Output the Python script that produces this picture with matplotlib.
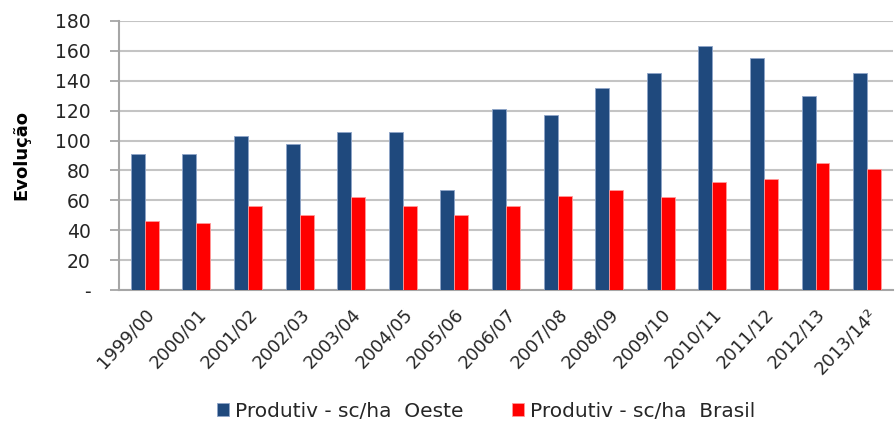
import matplotlib.pyplot as plt
import numpy as np

safras = ["1999/00", "2000/01", "2001/02", "2002/03", "2003/04", "2004/05",
          "2005/06", "2006/07", "2007/08", "2008/09", "2009/10", "2010/11",
          "2011/12", "2012/13", "2013/14²"]
oeste = [91, 91, 103, 98, 106, 106, 67, 121, 117, 135, 145, 163, 155, 130, 145]
brasil = [46, 45, 56, 50, 62, 56, 50, 56, 63, 67, 62, 72, 74, 85, 81]
y_ticks = [0, 20, 40, 60, 80, 100, 120, 140, 160, 180]
y_labels = ["-"] + [str(v) for v in y_ticks[1:]]

plt.rcParams["font.family"] = ["DejaVu Sans"]
text_color = "#262626"

fig = plt.figure(figsize=(8.96, 4.23), dpi=100)
ax = fig.add_axes([0.1328, 0.3144, 0.8638, 0.636])

x = np.arange(len(safras))
w = 0.27
ax.bar(x - w / 2, oeste, width=w, color="#1F497D", edgecolor="#8EA5C8",
       linewidth=0.6, label="Produtiv - sc/ha  Oeste", zorder=3)
ax.bar(x + w / 2, brasil, width=w, color="#FF0000", edgecolor="#FF9A9A",
       linewidth=0.6, label="Produtiv - sc/ha  Brasil", zorder=3)

ax.set_xlim(-0.5, len(safras) - 0.5)
ax.set_ylim(0, 180)
ax.set_yticks(y_ticks)
ax.set_yticklabels(y_labels, fontsize=13.5, color=text_color)
ax.set_xticks(x)
ax.set_xticklabels(safras, rotation=47, ha="right", rotation_mode="anchor",
                   fontsize=13, color=text_color)
ax.tick_params(axis="x", length=0, pad=11)
ax.tick_params(axis="y", length=6.5, color="#A6A6A6", width=1.3, pad=14)

ax.grid(axis="y", color="#C4C4C4", linewidth=1.5, zorder=0)
for side in ["top", "right"]:
    ax.spines[side].set_visible(False)
ax.spines["left"].set_color("#A6A6A6")
ax.spines["bottom"].set_color("#A6A6A6")
ax.spines["left"].set_linewidth(1.5)
ax.spines["bottom"].set_linewidth(1.5)

ax.set_ylabel("Evolução", fontsize=13, fontweight="bold", color="black")
ax.yaxis.set_label_coords(-0.115, 0.5)

fig.legend(loc="center", bbox_to_anchor=(0.543, 0.028), ncol=2, frameon=False,
           fontsize=14.5, handlelength=0.6, handleheight=0.6, handletextpad=0.3,
           columnspacing=2.4, labelcolor=text_color)

fig.savefig("out.png", dpi=100)
